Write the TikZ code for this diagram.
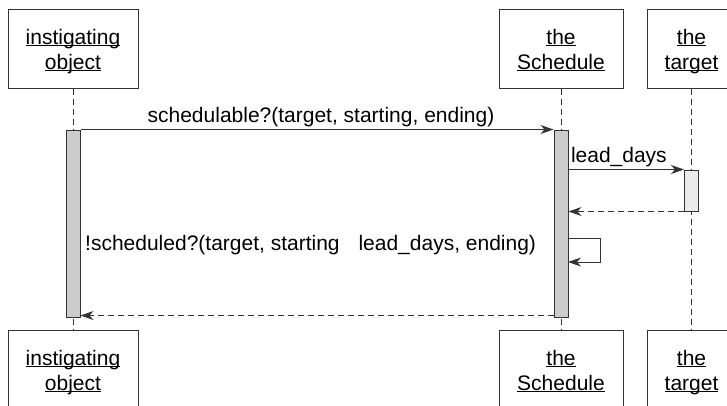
\documentclass[tikz,border=0pt]{standalone}
\usepackage{fontspec}
\setmainfont{Liberation Sans}
\usetikzlibrary{arrows.meta}
\newcommand{\uname}[1]{\underline{\smash{#1}}}
\newcommand{\objname}[2]{\raisebox{-3pt}[\height][\depth]{\begin{tabular}{@{}c@{}}\uname{#1}\\\uname{#2}\end{tabular}}}
\begin{document}
\begin{tikzpicture}[x=1pt,y=-1pt,>={Stealth[length=13pt,width=9pt,inset=4pt]},
objbox/.style={rectangle,draw=black!80,line width=1pt,inner sep=0pt,minimum height=79pt,font=\fontsize{21}{25}\selectfont},
bar/.style={rectangle,draw=black!80,line width=1pt,fill=black!20,minimum width=14pt,inner sep=0pt},
lifeline/.style={draw=black!80,line width=1pt,dash pattern=on 6pt off 4pt},
msg/.style={font=\fontsize{21}{25}\selectfont,inner sep=2pt}
]
\clip (0,0) rectangle (727,405);

\node[objbox,minimum width=130pt](inst-top) at (73,48.5){\objname{instigating}{object}};
\node[objbox,minimum width=124pt](sched-top) at (561,48.5){\objname{the}{Schedule}};
\node[objbox,minimum width=89pt](target-top) at (691.5,48.5){\objname{the}{target}};

\node[objbox,minimum width=130pt](inst-bot) at (73,369.5){\objname{instigating}{object}};
\node[objbox,minimum width=124pt](sched-bot) at (561,369.5){\objname{the}{Schedule}};
\node[objbox,minimum width=89pt](target-bot) at (691.5,369.5){\objname{the}{target}};

\draw[lifeline] (inst-top)--(inst-bot);
\draw[lifeline] (sched-top)--(sched-bot);
\draw[lifeline] (target-top)--(target-bot);

\node[bar,minimum height=187pt](inst-bar) at (73,223.5){};
\node[bar,minimum height=187pt](sched-bar) at (561,223.5){};
\node[bar,fill=black!8,minimum height=41pt](target-bar) at (691.5,190.5){};

\coordinate(loop-out) at (568,238);
\coordinate(loop-in) at (568,262);
\node[msg,anchor=west](sched-label) at (83,245){!scheduled?(target, starting\hspace{0.9em}lead\_days, ending)};

\begin{scope}[->, line width=1pt, draw=black!80]
\draw (inst-bar.north east)--(sched-bar.north west) node[midway,above,msg,xshift=4pt]{schedulable?(target, starting, ending)};
\draw (sched-bar.east |- target-bar.north)--(target-bar.north west) node[pos=0,above right,msg]{lead\_days};
\draw[lifeline] (target-bar.south west)--(sched-bar.east |- target-bar.south);
\draw (loop-out)--++(32,0)--++(0,24)--(loop-in);
\draw[lifeline] ([yshift=2pt]sched-bar.south west)--([yshift=2pt]inst-bar.south east);
\end{scope}
\end{tikzpicture}
\end{document}
